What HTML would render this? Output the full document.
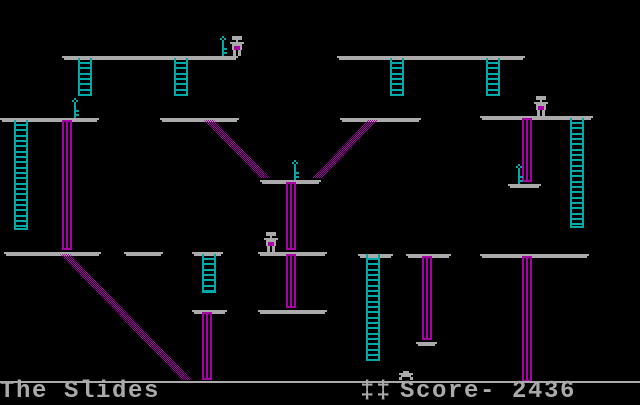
<!DOCTYPE html>
<html><head><meta charset="utf-8"><style>
html,body{margin:0;padding:0;background:#000;width:640px;height:400px;overflow:hidden}
svg{position:absolute;left:0;top:0}
.t{position:absolute;top:380px;font-family:"Liberation Mono",monospace;font-size:24px;font-weight:bold;color:#aaa;letter-spacing:1.6px;line-height:24px;white-space:pre}
</style></head><body>
<svg id="s" width="640" height="400" xmlns="http://www.w3.org/2000/svg">
<defs><pattern id="ck" width="2" height="2" patternUnits="userSpaceOnUse"><rect width="1" height="1" fill="#a0a"/><rect x="1" y="1" width="1" height="1" fill="#a0a"/></pattern></defs>
<g id="g"></g>
<rect x="0" y="381" width="640" height="2" fill="#aaa"/>
</svg>
<div class="t" style="left:0">The Slides</div>
<div class="t" style="left:360px">‡‡</div>
<div class="t" style="left:400px">Score- 2436</div>
<script>
var g=document.getElementById('g'),h='';
function R(x,y,w,hh,c){h+='<rect x="'+x+'" y="'+y+'" width="'+w+'" height="'+hh+'" fill="'+c+'"/>';}
function P(x1,x2,y){R(x1,y,x2-x1,2,'#aaa');R(x1+2,y+2,x2-x1-4,2,'#aaa');}
function L(x,y1,y2){R(x,y1,2,y2-y1,'#0aa');R(x+12,y1,2,y2-y1,'#0aa');for(var y=y1+4;y<y2-1;y+=5.33)R(x,Math.round(y),14,2,'#0aa');R(x,y2-2,14,2,'#0aa');}
function O(x,y1,y2){R(x,y1,10,2,'#a0a');R(x,y1,2,y2-y1,'#a0a');R(x+4,y1,2,y2-y1,'#a0a');R(x+8,y1,2,y2-y1,'#a0a');R(x,y2-2,10,2,'#a0a');}
function S(x1,y1,x2,y2){h+='<polygon points="'+x1+','+y1+' '+(x1+10)+','+y1+' '+(x2+10)+','+y2+' '+x2+','+y2+'" fill="url(#ck)"/>';}
function K(x,y){R(x,y,2,2,'#0aa');R(x-2,y+2,2,2,'#0aa');R(x+2,y+2,2,2,'#0aa');R(x,y+4,2,2,'#0aa');R(x,y+6,2,14,'#0aa');R(x+2,y+12,3,2,'#0aa');R(x+2,y+16,3,2,'#0aa');}
function M(x,y){R(x+2,y,10,4,'#aaa');R(x+6,y+4,2,2,'#aaa');R(x,y+6,14,2,'#aaa');R(x+2,y+8,10,6,'#aaa');R(x+4,y+10,6,4,'#a0a');R(x+3,y+14,3,6,'#aaa');R(x+8,y+14,3,6,'#aaa');}
[[62,238,56],[337,525,56],[0,99,118],[160,239,118],[340,421,118],[480,593,116],[260,321,180],[508,541,184],
[4,101,252],[124,163,252],[192,223,252],[258,327,252],[358,393,254],[406,451,254],[480,589,254],[192,227,310],[258,327,310],[416,437,342]].forEach(function(p){P(p[0],p[1],p[2]);});
L(78,58,96);L(174,58,96);L(390,58,96);L(486,58,96);L(14,120,230);L(570,118,228);L(202,254,293);L(366,254,361);
O(62,120,250);O(286,182,250);O(286,254,308);O(522,118,182);O(202,312,380);O(422,256,340);O(522,256,382);
S(204,120,260,178);S(368,120,312,178);S(60,254,182,380);
K(222,36);K(74,98);K(294,160);K(518,164);
M(230,36);M(534,96);M(264,232);
R(403,371,6,2,'#aaa');R(399,373,14,2,'#aaa');R(401,375,10,2,'#aaa');R(399,377,3,3,'#aaa');R(410,377,3,3,'#aaa');
g.innerHTML=h;
</script>
</body></html>
